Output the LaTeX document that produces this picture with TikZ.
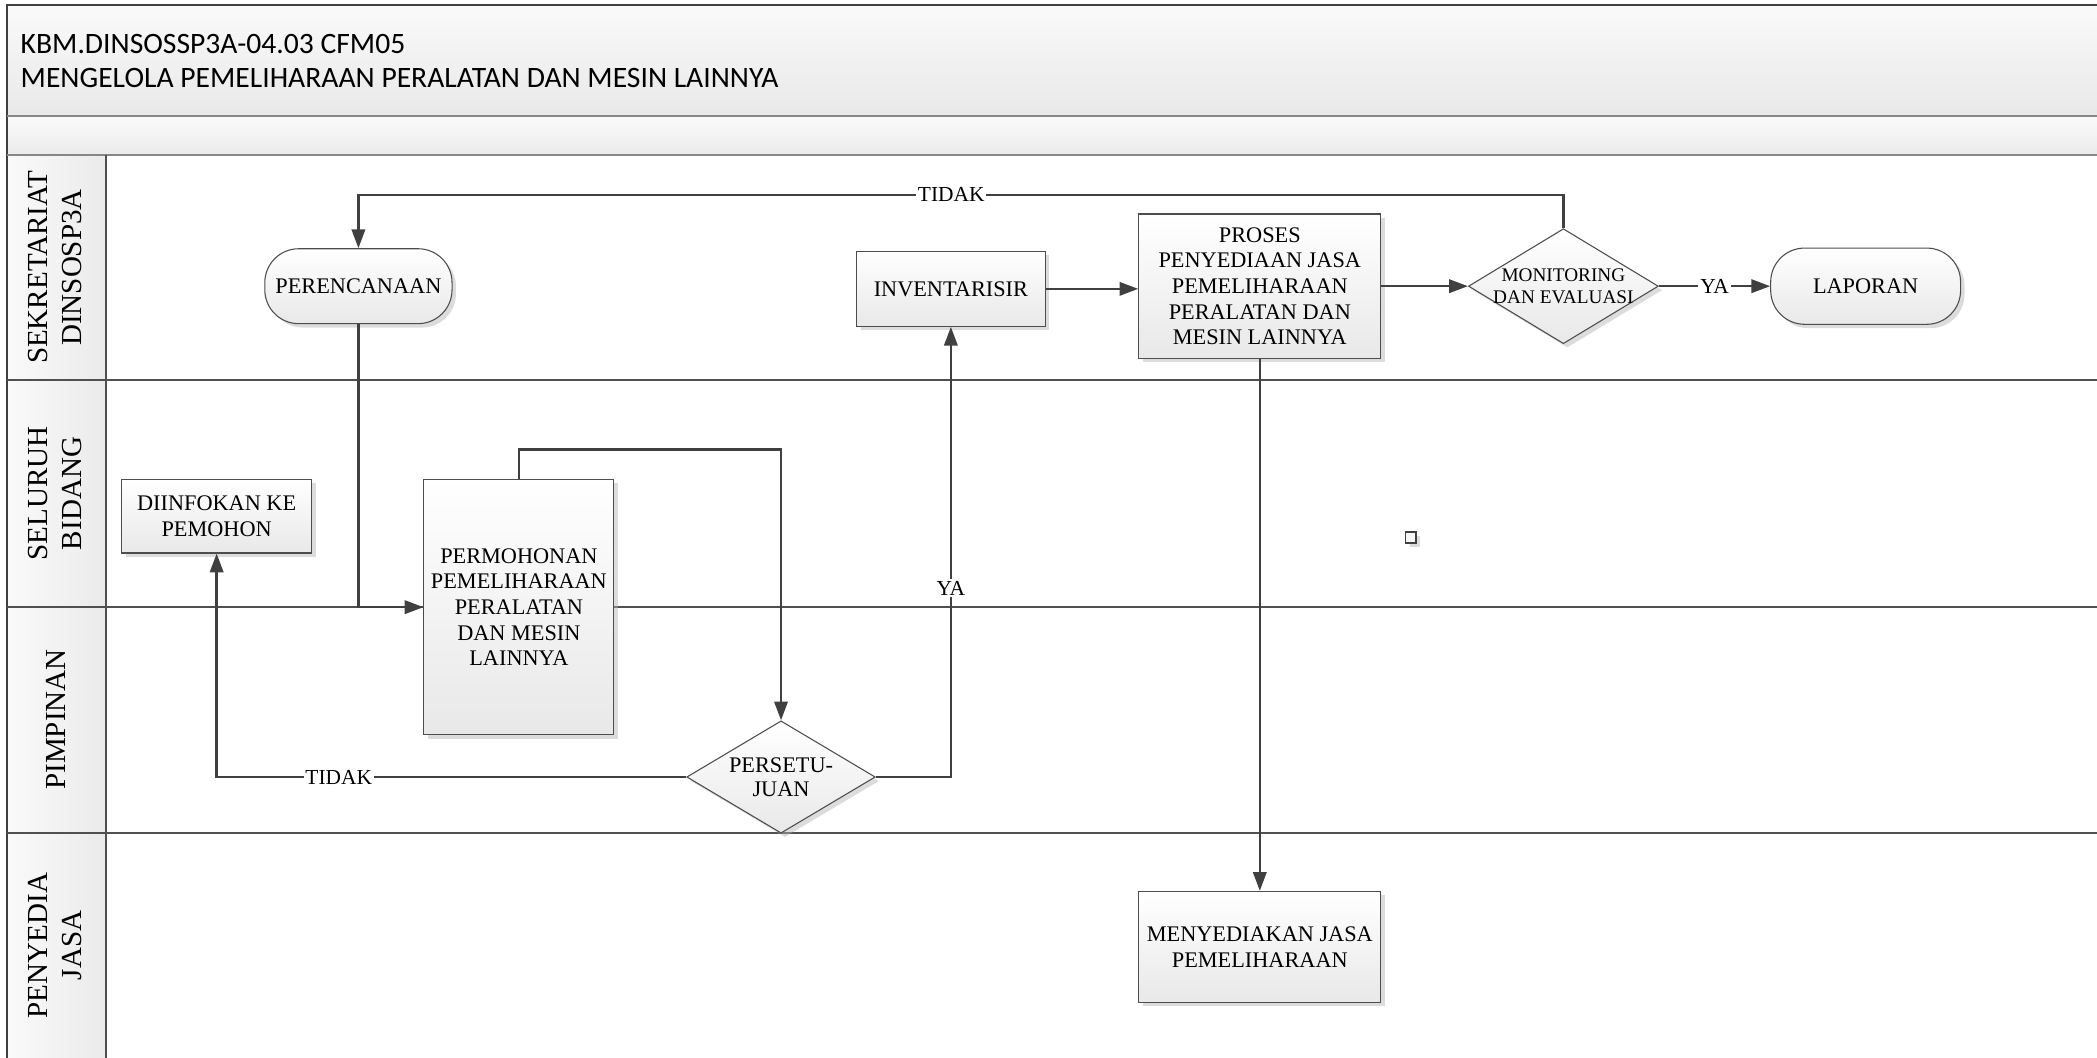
\documentclass[tikz,border=0pt]{standalone}
\usepackage{fontspec}
\setmainfont{Liberation Serif}
\newfontfamily\headfont{Carlito}
\usetikzlibrary{shapes.geometric,arrows.meta,shadows}

\tikzset{every picture/.style={line width=0.75pt}}
\tikzset{
  boxshade/.style={draw={rgb,255:red,77;green,77;blue,77}, line width=0.6pt, top color=white, bottom color=black!9,
    drop shadow={shadow xshift=2.2pt, shadow yshift=-2.2pt, fill=black!30, opacity=0.45}},
  procbox/.style={boxshade, rectangle, inner sep=1pt, align=center, font=\fontsize{12.5}{14.4}\selectfont},
  termbox/.style={procbox, rounded corners=19pt},
  decision/.style={boxshade, diamond, inner sep=0pt},
  dectext/.style={align=center, inner sep=0pt},
  flow/.style={color={rgb, 255:red, 64; green, 64; blue, 64}, line width=1.3pt, -{Triangle[length=10.5pt,width=7.5pt]}},
  lbl/.style={fill=white, text=black, inner sep=1pt, font=\fontsize{12}{14}\selectfont},
  lanetext/.style={rotate=90, align=center, inner sep=0pt, font=\fontsize{16.3}{19}\selectfont},
  laneline/.style={color={rgb, 255:red, 80; green, 80; blue, 80}, line width=1.1pt},
  bandline/.style={color={rgb, 255:red, 135; green, 135; blue, 135}, line width=1pt},
  headtext/.style={anchor=west, inner sep=0pt, font=\headfont\fontsize{16.6}{19}\selectfont},
}

\begin{document}
\begin{tikzpicture}[x=0.75pt,y=0.75pt,yscale=-1,xscale=1]
\useasboundingbox (0,0) rectangle (1568,791);

%Shape: Rectangle (header bands and lane column)
\shade [top color=black!2, bottom color=black!9] (5,4) rectangle (1568,87);
\shade [top color=black!2, bottom color=black!8] (5,87) rectangle (1568,116);
\shade [left color=black!2, right color=black!8] (5,116) rectangle (79,791);

%Straight Lines
\draw [color={rgb, 255:red, 64; green, 64; blue, 64}, line width=1.1pt] (5,791) -- (5,4) -- (1568,4);
\draw [bandline] (5,87) -- (1568,87);
\draw [bandline] (5,116) -- (1568,116);
\draw [laneline] (5,284) -- (1568,284);
\draw [laneline] (5,454) -- (1568,454);
\draw [laneline] (5,623) -- (1568,623);
\draw [laneline] (79,116) -- (79,791);

% Text Node
\node (kode) [headtext] at (15,33) {KBM.DINSOSSP3A-04.03 CFM05};
% Text Node
\node (judul) [headtext] at (15,58) {MENGELOLA PEMELIHARAAN PERALATAN DAN MESIN LAINNYA};

% Text Node
\node (sekre) [lanetext] at (41,200) {SEKRETARIAT\\DINSOSP3A};
% Text Node
\node (bidang) [lanetext] at (41,369) {SELURUH\\BIDANG};
% Text Node
\node (pimpinan) [lanetext] at (42,538) {PIMPINAN};
% Text Node
\node (penyedia) [lanetext] at (41,707) {PENYEDIA\\JASA};

%Shape: Rounded Rect
\node (plan) [termbox, minimum width=105pt, minimum height=42pt] at (268,214) {PERENCANAAN};
%Shape: Rectangle
\node (inv) [procbox, minimum width=105.75pt, minimum height=42pt] at (711,216) {INVENTARISIR};
%Shape: Rectangle
\node (proses) [procbox, minimum width=135.75pt, minimum height=81pt] at (942,214) {PROSES\\PENYEDIAAN JASA\\PEMELIHARAAN\\PERALATAN DAN\\MESIN LAINNYA};
%Shape: Diamond
\node (monev) [decision, minimum width=106.5pt, minimum height=64.5pt] at (1169,214) {};
\node (monevtext) [dectext, font=\fontsize{10.8}{12}\selectfont] at (monev.center) {MONITORING\\DAN EVALUASI};
%Shape: Rounded Rect
\node (lapor) [termbox, minimum width=106.5pt, minimum height=42.75pt] at (1395,214) {LAPORAN};
%Shape: Rectangle
\node (info) [procbox, minimum width=106.5pt, minimum height=41.25pt] at (162,386) {DIINFOKAN KE\\PEMOHON};
%Shape: Rectangle
\node (mohon) [procbox, minimum width=106.5pt, minimum height=143.25pt] at (388,454) {PERMOHONAN\\PEMELIHARAAN\\PERALATAN\\DAN MESIN\\LAINNYA};
%Shape: Diamond
\node (setuju) [decision, minimum width=105.75pt, minimum height=63pt] at (584,581) {};
\node (setujutext) [dectext, font=\fontsize{12.5}{13.5}\selectfont] at (setuju.center) {PERSETU-\\JUAN};
%Shape: Rectangle
\node (sedia) [procbox, minimum width=135.75pt, minimum height=62.25pt] at (942,708) {MENYEDIAKAN JASA\\PEMELIHARAAN};

%Shape: Square
\draw [color={rgb, 255:red, 64; green, 64; blue, 64}, line width=0.9pt, fill=black!3, drop shadow={shadow xshift=2.2pt, shadow yshift=-2.2pt, fill=black!30, opacity=0.45}] (1051,398) rectangle (1059,406);

%Connectors
\draw [flow] (monev.north) -- ++(0,-25) -| node [lbl, pos=0.254] {TIDAK} (plan.north);
\draw [flow] (plan.south) |- (mohon.west);
\draw [flow] (mohon.north) -- ++(0,-22) -| (setuju.north);
\draw [flow] (setuju.west) -| node [lbl, pos=0.37] {TIDAK} (info.south);
\draw [flow] (setuju.east) -| node [lbl, pos=0.71] {YA} (inv.south);
\draw [flow] (inv.east) -- ([yshift=1.5pt]proses.west);
\draw [flow] (proses.east) -- (monev.west);
\draw [flow] (monev.east) -- node [lbl] {YA} (lapor.west);
\draw [flow] (proses.south) -- (sedia.north);

\end{tikzpicture}
\end{document}
